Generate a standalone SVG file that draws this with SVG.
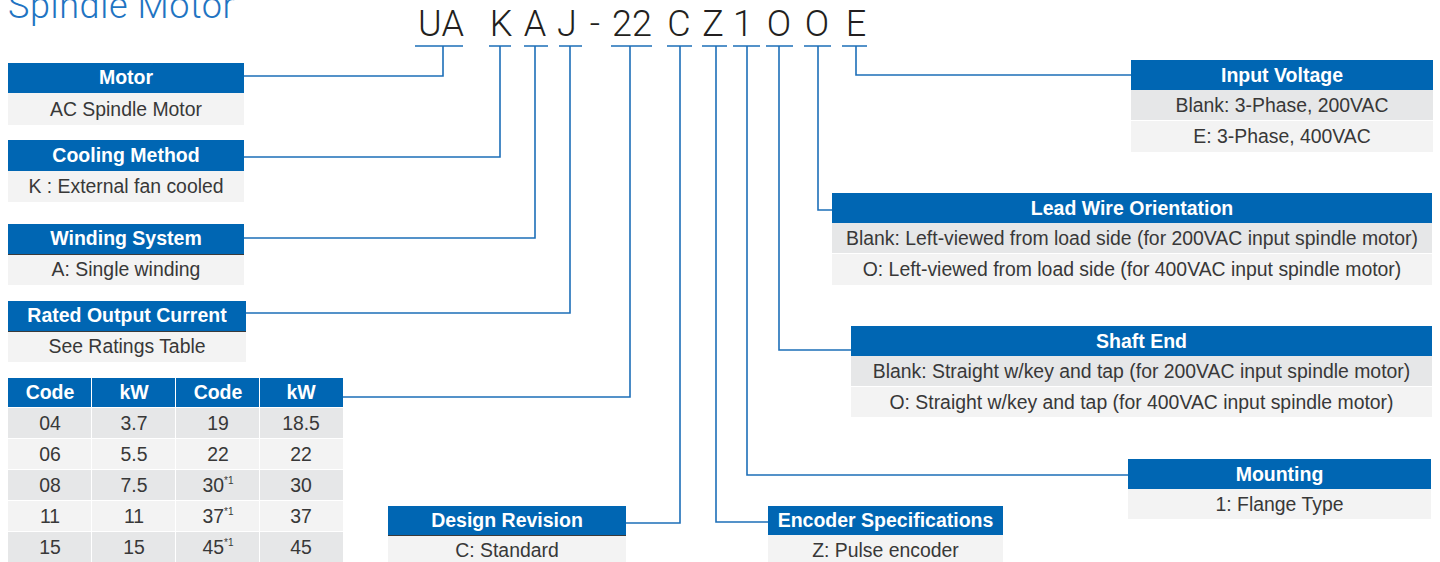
<svg xmlns="http://www.w3.org/2000/svg" width="1440" height="562" viewBox="0 0 1440 562">
<style>
.hd{fill:#0066b3}
.hl{stroke:#3a3a3a;stroke-width:1}
.b1{fill:#e6e7e8}
.b2{fill:#f3f3f3}
.ht{font-family:"Liberation Sans",Arial,sans-serif;font-weight:bold;font-size:19.5px;fill:#fff;text-anchor:middle}
.bt{font-family:"Liberation Sans",Arial,sans-serif;font-size:19.4px;fill:#383838;text-anchor:middle}
.sup{font-size:10px}
.code{font-family:Roboto,"Liberation Sans",sans-serif;font-weight:300;font-size:36px;fill:#231f20;text-anchor:middle}
.title{font-family:Roboto,"Liberation Sans",sans-serif;font-weight:300;font-size:36px;letter-spacing:0.6px;fill:#1f74c2}
.cn{fill:none;stroke:#1d6fb8;stroke-width:1.6}
</style>

<text class="title" x="8" y="18">Spindle Motor</text>

<g id="code">
<text class="code" x="441" y="36">UA</text>
<text class="code" x="501" y="36">K</text>
<text class="code" x="535" y="36">A</text>
<text class="code" x="567" y="36">J</text>
<text class="code" x="595" y="36">-</text>
<text class="code" x="632" y="36">22</text>
<text class="code" x="679" y="36">C</text>
<text class="code" x="713" y="36">Z</text>
<text class="code" x="743" y="36">1</text>
<text class="code" x="779" y="36">O</text>
<text class="code" x="817" y="36">O</text>
<text class="code" x="856" y="36">E</text>
</g>

<g id="connectors">
<path class="cn" d="M415 46H463M443 46V76H244"/>
<path class="cn" d="M489 46H511M500 46V157H244"/>
<path class="cn" d="M524 46H548M535 46V238H244"/>
<path class="cn" d="M559 46H582M570 46V313H246"/>
<path class="cn" d="M611 46H652M630 46V397H343"/>
<path class="cn" d="M667 46H692M680 46V523H626"/>
<path class="cn" d="M702 46H727M716 46V522H768"/>
<path class="cn" d="M733 46H760M747 46V475H1128"/>
<path class="cn" d="M766 46H793M779 46V350H851"/>
<path class="cn" d="M804 46H831M818 46V210H832"/>
<path class="cn" d="M842 46H867M856 46V75H1131"/>
</g>

<g id="motor">
<rect class="hd" x="8" y="63" width="236" height="30"/>
<rect class="b2" x="8" y="93" width="236" height="32"/>
<text class="ht" x="126" y="84">Motor</text>
<text class="bt" x="126" y="116">AC Spindle Motor</text>
</g>

<g id="cooling">
<rect class="hd" x="8" y="140" width="236" height="31"/>
<rect class="b2" x="8" y="171" width="236" height="31"/>
<text class="ht" x="126" y="162">Cooling Method</text>
<text class="bt" x="126" y="193">K : External fan cooled</text>
</g>

<g id="winding">
<rect class="hd" x="8" y="224" width="236" height="30"/>
<rect class="b2" x="8" y="254" width="236" height="31"/>
<line class="hl" x1="8" y1="254.5" x2="244" y2="254.5"/>
<text class="ht" x="126" y="245">Winding System</text>
<text class="bt" x="126" y="276">A: Single winding</text>
</g>

<g id="rated">
<rect class="hd" x="8" y="301" width="238" height="30"/>
<rect class="b2" x="8" y="331" width="238" height="31"/>
<line class="hl" x1="8" y1="331.5" x2="246" y2="331.5"/>
<text class="ht" x="127" y="322">Rated Output Current</text>
<text class="bt" x="127" y="353">See Ratings Table</text>
</g>

<g id="table">
<rect class="hd" x="8" y="378" width="83" height="29"/>
<rect class="hd" x="92" y="378" width="83" height="29"/>
<rect class="hd" x="176" y="378" width="83" height="29"/>
<rect class="hd" x="260" y="378" width="83" height="29"/>
<text class="ht" x="50" y="399">Code</text>
<text class="ht" x="134" y="399">kW</text>
<text class="ht" x="218" y="399">Code</text>
<text class="ht" x="301" y="399">kW</text>
<g class="b1">
<rect x="8" y="408" width="83" height="30"/><rect x="92" y="408" width="83" height="30"/><rect x="176" y="408" width="83" height="30"/><rect x="260" y="408" width="83" height="30"/>
<rect x="8" y="470" width="83" height="30"/><rect x="92" y="470" width="83" height="30"/><rect x="176" y="470" width="83" height="30"/><rect x="260" y="470" width="83" height="30"/>
<rect x="8" y="532" width="83" height="30"/><rect x="92" y="532" width="83" height="30"/><rect x="176" y="532" width="83" height="30"/><rect x="260" y="532" width="83" height="30"/>
</g>
<g class="b2">
<rect x="8" y="439" width="83" height="30"/><rect x="92" y="439" width="83" height="30"/><rect x="176" y="439" width="83" height="30"/><rect x="260" y="439" width="83" height="30"/>
<rect x="8" y="501" width="83" height="30"/><rect x="92" y="501" width="83" height="30"/><rect x="176" y="501" width="83" height="30"/><rect x="260" y="501" width="83" height="30"/>
</g>
<text class="bt" x="50" y="430">04</text><text class="bt" x="134" y="430">3.7</text><text class="bt" x="218" y="430">19</text><text class="bt" x="301" y="430">18.5</text>
<text class="bt" x="50" y="461">06</text><text class="bt" x="134" y="461">5.5</text><text class="bt" x="218" y="461">22</text><text class="bt" x="301" y="461">22</text>
<text class="bt" x="50" y="492">08</text><text class="bt" x="134" y="492">7.5</text><text class="bt" x="218" y="492">30<tspan class="sup" dy="-8">*1</tspan></text><text class="bt" x="301" y="492">30</text>
<text class="bt" x="50" y="523">11</text><text class="bt" x="134" y="523">11</text><text class="bt" x="218" y="523">37<tspan class="sup" dy="-8">*1</tspan></text><text class="bt" x="301" y="523">37</text>
<text class="bt" x="50" y="554">15</text><text class="bt" x="134" y="554">15</text><text class="bt" x="218" y="554">45<tspan class="sup" dy="-8">*1</tspan></text><text class="bt" x="301" y="554">45</text>
</g>

<g id="design">
<rect class="hd" x="388" y="506" width="238" height="29"/>
<rect class="b2" x="388" y="535" width="238" height="27"/>
<line class="hl" x1="388" y1="535.5" x2="626" y2="535.5"/>
<text class="ht" x="507" y="527">Design Revision</text>
<text class="bt" x="507" y="557">C: Standard</text>
</g>

<g id="encoder">
<rect class="hd" x="768" y="506" width="235" height="29"/>
<rect class="b2" x="768" y="535" width="235" height="27"/>
<text class="ht" x="885.5" y="527">Encoder Specifications</text>
<text class="bt" x="885.5" y="557">Z: Pulse encoder</text>
</g>

<g id="mounting">
<rect class="hd" x="1128" y="459" width="303" height="30"/>
<rect class="b2" x="1128" y="489" width="303" height="30"/>
<text class="ht" x="1279.5" y="481">Mounting</text>
<text class="bt" x="1279.5" y="511">1: Flange Type</text>
</g>

<g id="shaft">
<rect class="hd" x="851" y="326" width="581" height="30"/>
<rect class="b1" x="851" y="356" width="581" height="30"/>
<rect class="b2" x="851" y="387" width="581" height="30"/>
<text class="ht" x="1141.5" y="348">Shaft End</text>
<text class="bt" x="1141.5" y="378">Blank: Straight w/key and tap (for 200VAC input spindle motor)</text>
<text class="bt" x="1141.5" y="409">O: Straight w/key and tap (for 400VAC input spindle motor)</text>
</g>

<g id="leadwire">
<rect class="hd" x="832" y="193" width="600" height="30"/>
<rect class="b1" x="832" y="223" width="600" height="30"/>
<rect class="b2" x="832" y="254" width="600" height="31"/>
<text class="ht" x="1132" y="215">Lead Wire Orientation</text>
<text class="bt" x="1132" y="245">Blank: Left-viewed from load side (for 200VAC input spindle motor)</text>
<text class="bt" x="1132" y="276">O: Left-viewed from load side (for 400VAC input spindle motor)</text>
</g>

<g id="voltage">
<rect class="hd" x="1131" y="60" width="302" height="30"/>
<rect class="b1" x="1131" y="90" width="302" height="30"/>
<rect class="b2" x="1131" y="121" width="302" height="31"/>
<text class="ht" x="1282" y="82">Input Voltage</text>
<text class="bt" x="1282" y="112">Blank: 3-Phase, 200VAC</text>
<text class="bt" x="1282" y="143">E: 3-Phase, 400VAC</text>
</g>
</svg>
